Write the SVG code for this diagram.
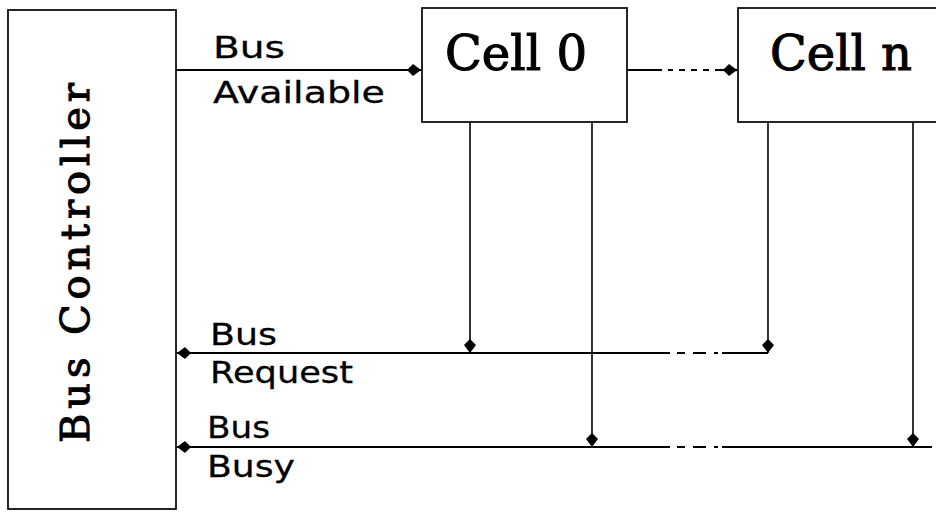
<svg xmlns="http://www.w3.org/2000/svg" width="936" height="513" viewBox="0 0 936 513">
<style>
.box{fill:#fff;stroke:#000;stroke-width:1.7}
.ln{fill:none;stroke:#000;stroke-width:2.2}
.vl{fill:none;stroke:#000;stroke-width:1.6}
.lbl{font-family:"DejaVu Sans",sans-serif;font-size:31px;fill:#000;stroke:#000;stroke-width:0.3}
.cell{font-family:"DejaVu Serif",serif;font-size:48px;fill:#000;stroke:#000;stroke-width:1.1}
.ctl{font-family:"DejaVu Serif",serif;font-size:40px;fill:#000;stroke:#000;stroke-width:1.1}
</style>
<defs>
<marker id="dia" viewBox="0 0 14 13" refX="14" refY="6.5" markerWidth="14" markerHeight="13" markerUnits="userSpaceOnUse" orient="auto">
<path d="M0,6.5 L6,0.5 L14,6.5 L6,12.5 Z" fill="#000"/>
</marker>
</defs>
<rect width="936" height="513" fill="#fff"/>
<g id="bus-controller">
<rect class="box" x="8" y="10" width="168" height="499"/>
<text class="ctl" transform="translate(89,443) rotate(-90)" textLength="360" lengthAdjust="spacing">Bus Controller</text>
</g>
<g id="cell-0">
<rect class="box" x="422" y="8" width="205" height="114"/>
<text class="cell" x="445" y="70" textLength="142" lengthAdjust="spacingAndGlyphs">Cell 0</text>
</g>
<g id="cell-n">
<rect class="box" x="738" y="8" width="210" height="114"/>
<text class="cell" x="770" y="70" textLength="142" lengthAdjust="spacingAndGlyphs">Cell n</text>
</g>
<g id="connectors">
<path class="ln" d="M176,70 H421" marker-end="url(#dia)"/>
<path class="ln" d="M627,70 H662"/>
<path class="ln" d="M668,70 H673 M679,70 H685 M691,70 H697 M703,70 H709 M715,70 H720"/>
<path class="ln" d="M720,70 H737" marker-end="url(#dia)"/>
<path class="vl" d="M470,122 V353" marker-end="url(#dia)"/>
<path class="vl" d="M592,122 V447" marker-end="url(#dia)"/>
<path class="vl" d="M768,122 V353" marker-end="url(#dia)"/>
<path class="vl" d="M913,122 V447" marker-end="url(#dia)"/>
<path class="ln" d="M768,353 H722 M718,353 H714 M706,353 H693 M685,353 H677"/>
<path class="ln" d="M670,353 H177" marker-end="url(#dia)"/>
<path class="ln" d="M932,447 H722 M718,447 H714 M706,447 H693 M685,447 H677"/>
<path class="ln" d="M670,447 H177" marker-end="url(#dia)"/>
</g>
<g id="labels">
<text class="lbl" x="213" y="58" textLength="72" lengthAdjust="spacingAndGlyphs">Bus</text>
<text class="lbl" x="213" y="103" textLength="172" lengthAdjust="spacingAndGlyphs">Available</text>
<text class="lbl" x="210" y="345" textLength="67" lengthAdjust="spacingAndGlyphs">Bus</text>
<text class="lbl" x="210" y="383" textLength="143" lengthAdjust="spacingAndGlyphs">Request</text>
<text class="lbl" x="207" y="438" textLength="63" lengthAdjust="spacingAndGlyphs">Bus</text>
<text class="lbl" x="207" y="477" textLength="88" lengthAdjust="spacingAndGlyphs">Busy</text>
</g>
</svg>
